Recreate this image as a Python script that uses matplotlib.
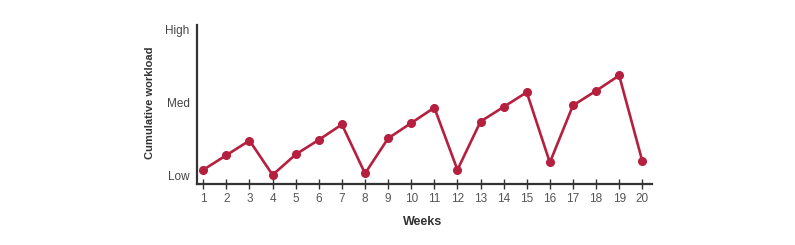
import matplotlib
matplotlib.use("Agg")
import matplotlib.pyplot as plt

weeks = list(range(1, 21))
workload = [0.08, 0.28, 0.48, 0.01, 0.29, 0.49, 0.70, 0.03, 0.51, 0.72,
            0.93, 0.08, 0.74, 0.94, 1.14, 0.18, 0.96, 1.16, 1.37, 0.20]
y_ticks = [0, 1, 2]
y_labels = ["Low", "Med", "High"]

plt.rcParams['font.family'] = ['Liberation Sans', 'DejaVu Sans']

fig = plt.figure(figsize=(7.95, 2.45), dpi=100)
ax = fig.add_axes([0.2474, 0.249, 0.5727, 0.649])

red = "#b5203f"
ax.plot(weeks, workload, color=red, lw=1.9, marker="o", ms=5.5,
        markerfacecolor=red, markeredgecolor=red, solid_joinstyle="miter")

ax.set_xlim(0.714, 20.42)
ax.set_ylim(-0.114, 2.06)
ax.set_xticks(weeks)
ax.set_xticklabels([str(w) for w in weeks], fontsize=8.5, color="#555555")
ax.set_yticks(y_ticks)
ax.set_yticklabels(y_labels, fontsize=8.5, color="#444444")

for s in ["top", "right"]:
    ax.spines[s].set_visible(False)
for s in ["left", "bottom"]:
    ax.spines[s].set_color("#333333")
    ax.spines[s].set_linewidth(1.6)

ax.tick_params(axis="x", direction="inout", length=7, width=1, color="#333333", pad=3)
ax.tick_params(axis="y", length=0, pad=5)

ax.set_xlabel("Weeks", fontsize=9, fontweight="bold", color="#333333", va="center")
ax.set_ylabel("Cumulative workload", fontsize=8, fontweight="bold", color="#333333", va="center")
ax.xaxis.set_label_coords(0.497, -0.239)
ax.yaxis.set_label_coords(-0.1026, 0.509)

fig.savefig("out.png", dpi=100, facecolor="white")
